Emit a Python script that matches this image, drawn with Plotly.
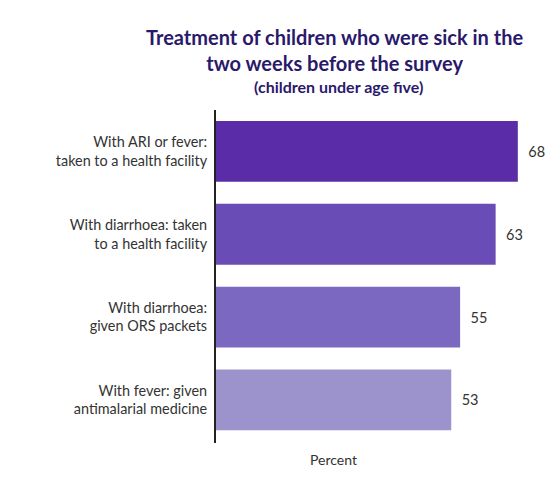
import plotly.graph_objects as go

categories = [
    "With ARI or fever:<br>taken to a health facility",
    "With diarrhoea: taken<br>to a health facility",
    "With diarrhoea:<br>given ORS packets",
    "With fever: given<br>antimalarial medicine",
]
values = [68, 63, 55, 53]
bar_colors = ["#5a2ca8", "#6a4cb6", "#7b68c0", "#9d93cc"]

# page body has an 8px default margin; positions below are in figure coordinates
L, T, R, B = 208, 102, 540, 435
W, H = 558, 492

fig = go.Figure(go.Bar(
    x=values,
    y=categories,
    orientation="h",
    width=0.735,
    marker=dict(color=bar_colors, line=dict(width=0)),
    text=["\u00a0\u00a0" + str(v) for v in values],
    textposition="outside",
    textfont=dict(family="Lato", size=14.5, color="#333333"),
    cliponaxis=False,
))

fig.update_layout(
    width=W, height=H,
    margin=dict(l=L, r=W - R, t=T, b=H - B, autoexpand=False),
    paper_bgcolor="white", plot_bgcolor="white",
    showlegend=False,
    xaxis=dict(range=[0, 74.8], showgrid=False, zeroline=False,
               showticklabels=False, ticks="", showline=False),
    yaxis=dict(range=[3.52, -0.5], showgrid=False, zeroline=False,
               showline=True, linecolor="#222222", linewidth=2,
               ticks="", ticklabelstandoff=4, automargin=False,
               tickfont=dict(family="Lato", size=14.4, color="#333333")),
    annotations=[
        dict(xref="paper", yref="paper", x=(326 - L) / (R - L), y=1 + (T - 15) / (B - T),
             xanchor="center", yanchor="top", showarrow=False, align="center",
             text="<b>Treatment of children who were sick in the<br>two weeks before the survey</b>",
             font=dict(family="Lato", size=20, color="#2a196b")),
        dict(xref="paper", yref="paper", x=(330 - L) / (R - L), y=1 + (T - 78) / (B - T),
             xanchor="center", yanchor="middle", showarrow=False, align="center",
             text="<b>(children under age five)</b>",
             font=dict(family="Lato", size=16, color="#2a196b")),
        dict(xref="paper", yref="paper", x=(325 - L) / (R - L), y=-(451 - B) / (B - T),
             xanchor="center", yanchor="middle", showarrow=False,
             text="Percent", font=dict(family="Lato", size=14, color="#333333")),
    ],
)

fig.write_html("out.html")
